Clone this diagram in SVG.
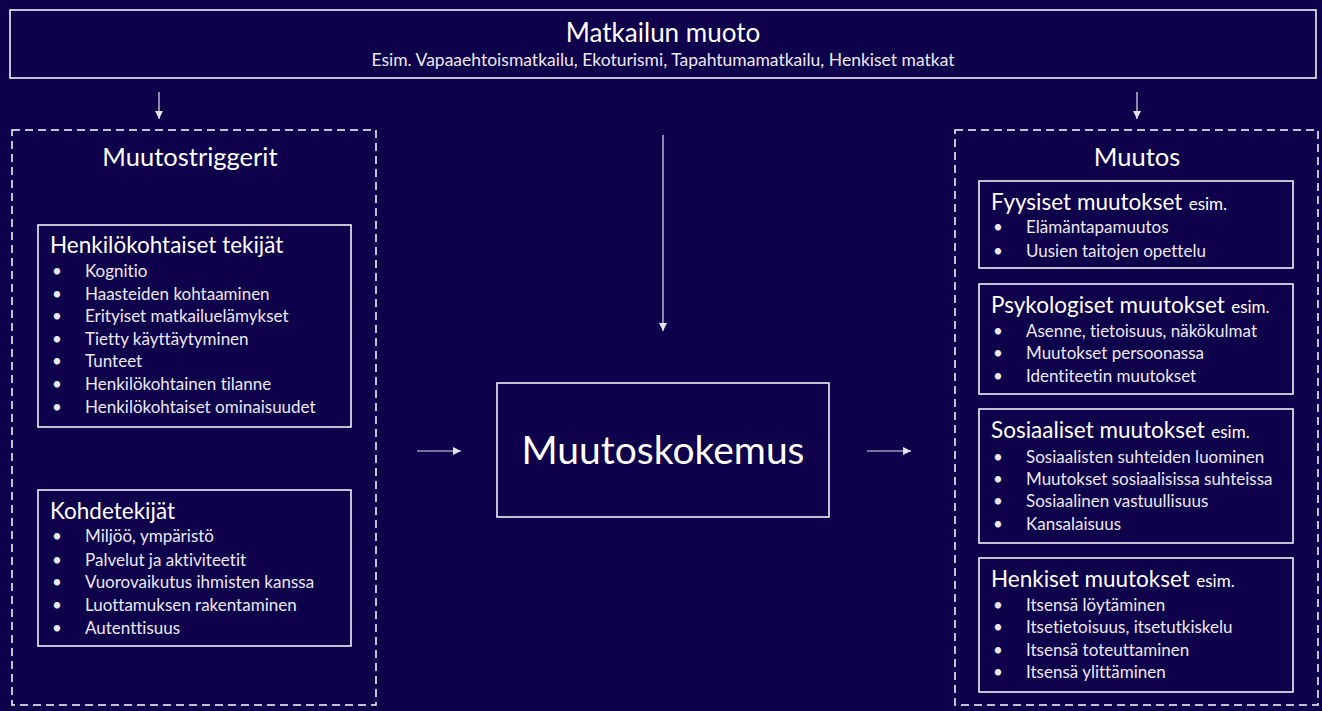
<svg xmlns="http://www.w3.org/2000/svg" width="1322" height="711" viewBox="0 0 1322 711">
<style>
text{font-family:Lato,"Open Sans","Liberation Sans",sans-serif;fill:#ffffff;font-variant-ligatures:none}
.box{fill:none;stroke:#ffffff;stroke-width:1.5}
.dash{fill:none;stroke:#ffffff;stroke-width:1.5;stroke-dasharray:8 5}
.con{stroke:#e4e2f0;stroke-width:1.2;fill:none;marker-end:url(#ah)}
.h1{font-size:25.5px}
.h2{font-size:22.5px}
.it{font-size:17px;fill:#ebe9f2}
.sm{font-size:17px}
.c{text-anchor:middle}
</style>
<defs>
<marker id="ah" markerUnits="userSpaceOnUse" markerWidth="10" markerHeight="10" refX="9" refY="5" orient="auto">
<path d="M1,1 L9,5 L1,9 Z" fill="#e4e2f0"/>
</marker>
</defs>
<rect width="1322" height="711" fill="#0e004b"/>

<g id="matkailun-muoto">
<rect class="box" x="10" y="10" width="1306" height="68"/>
<text class="c" x="663" y="42" style="font-size:26px">Matkailun muoto</text>
<text class="c" x="663" y="66" style="font-size:17.5px;fill:#ebe9f2">Esim. Vapaaehtoismatkailu, Ekoturismi, Tapahtumamatkailu, Henkiset matkat</text>
</g>

<g id="muutostriggerit">
<rect class="dash" x="12" y="130" width="364" height="575"/>
<text class="h1 c" x="190" y="166">Muutostriggerit</text>
</g>

<g id="henkilokohtaiset">
<rect class="box" x="38" y="225" width="313" height="202"/>
<text class="h2" x="50" y="253">Henkilökohtaiset tekijät</text>
<text class="it" x="52" y="277">•</text><text class="it" x="85" y="277">Kognitio</text>
<text class="it" x="52" y="300">•</text><text class="it" x="85" y="300">Haasteiden kohtaaminen</text>
<text class="it" x="52" y="322">•</text><text class="it" x="85" y="322">Erityiset matkailuelämykset</text>
<text class="it" x="52" y="345">•</text><text class="it" x="85" y="345">Tietty käyttäytyminen</text>
<text class="it" x="52" y="367">•</text><text class="it" x="85" y="367">Tunteet</text>
<text class="it" x="52" y="390">•</text><text class="it" x="85" y="390">Henkilökohtainen tilanne</text>
<text class="it" x="52" y="413">•</text><text class="it" x="85" y="413">Henkilökohtaiset ominaisuudet</text>
</g>

<g id="kohdetekijat">
<rect class="box" x="38" y="490" width="313" height="156"/>
<text class="h2" x="50" y="519">Kohdetekijät</text>
<text class="it" x="52" y="542">•</text><text class="it" x="85" y="542">Miljöö, ympäristö</text>
<text class="it" x="52" y="566">•</text><text class="it" x="85" y="566">Palvelut ja aktiviteetit</text>
<text class="it" x="52" y="588">•</text><text class="it" x="85" y="588">Vuorovaikutus ihmisten kanssa</text>
<text class="it" x="52" y="611">•</text><text class="it" x="85" y="611">Luottamuksen rakentaminen</text>
<text class="it" x="52" y="634">•</text><text class="it" x="85" y="634">Autenttisuus</text>
</g>

<g id="muutoskokemus">
<rect class="box" x="497" y="383" width="332" height="134"/>
<text class="c" x="663" y="464" style="font-size:39px">Muutoskokemus</text>
</g>

<g id="muutos">
<rect class="dash" x="955" y="130" width="363" height="575"/>
<text class="h1 c" x="1137" y="166">Muutos</text>
</g>

<g id="fyysiset">
<rect class="box" x="979" y="181" width="314" height="87"/>
<text x="991" y="210"><tspan class="h2">Fyysiset muutokset</tspan><tspan class="sm" dx="2"> esim.</tspan></text>
<text class="it" x="993" y="233">•</text><text class="it" x="1026" y="233">Elämäntapamuutos</text>
<text class="it" x="993" y="257">•</text><text class="it" x="1026" y="257">Uusien taitojen opettelu</text>
</g>

<g id="psykologiset">
<rect class="box" x="979" y="284" width="314" height="110"/>
<text x="991" y="313"><tspan class="h2">Psykologiset muutokset</tspan><tspan class="sm" dx="2"> esim.</tspan></text>
<text class="it" x="993" y="337">•</text><text class="it" x="1026" y="337">Asenne, tietoisuus, näkökulmat</text>
<text class="it" x="993" y="359">•</text><text class="it" x="1026" y="359">Muutokset persoonassa</text>
<text class="it" x="993" y="382">•</text><text class="it" x="1026" y="382">Identiteetin muutokset</text>
</g>

<g id="sosiaaliset">
<rect class="box" x="979" y="409" width="314" height="134"/>
<text x="991" y="438"><tspan class="h2">Sosiaaliset muutokset</tspan><tspan class="sm" dx="2"> esim.</tspan></text>
<text class="it" x="993" y="463">•</text><text class="it" x="1026" y="463">Sosiaalisten suhteiden luominen</text>
<text class="it" x="993" y="485">•</text><text class="it" x="1026" y="485">Muutokset sosiaalisissa suhteissa</text>
<text class="it" x="993" y="507">•</text><text class="it" x="1026" y="507">Sosiaalinen vastuullisuus</text>
<text class="it" x="993" y="530">•</text><text class="it" x="1026" y="530">Kansalaisuus</text>
</g>

<g id="henkiset">
<rect class="box" x="979" y="558" width="314" height="134"/>
<text x="991" y="587"><tspan class="h2">Henkiset muutokset</tspan><tspan class="sm" dx="2"> esim.</tspan></text>
<text class="it" x="993" y="611">•</text><text class="it" x="1026" y="611">Itsensä löytäminen</text>
<text class="it" x="993" y="633">•</text><text class="it" x="1026" y="633">Itsetietoisuus, itsetutkiskelu</text>
<text class="it" x="993" y="656">•</text><text class="it" x="1026" y="656">Itsensä toteuttaminen</text>
<text class="it" x="993" y="678">•</text><text class="it" x="1026" y="678">Itsensä ylittäminen</text>
</g>

<g id="connectors">
<line class="con" x1="159" y1="92" x2="159" y2="119"/>
<line class="con" x1="1137" y1="92" x2="1137" y2="119"/>
<line class="con" x1="663" y1="135" x2="663" y2="331"/>
<line class="con" x1="417" y1="451" x2="461" y2="451"/>
<line class="con" x1="867" y1="451" x2="911" y2="451"/>
</g>
</svg>
